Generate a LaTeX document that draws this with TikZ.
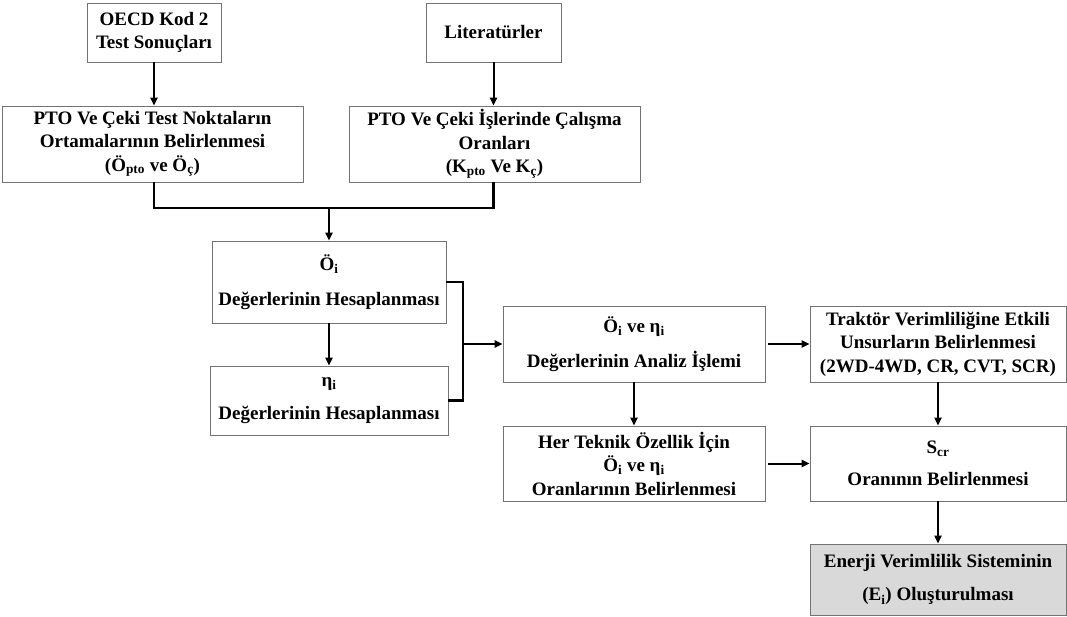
\documentclass[tikz,border=0pt]{standalone}
\usepackage{fontspec}
\setmainfont{Liberation Serif}
\usetikzlibrary{arrows.meta}
\newcommand{\subt}[1]{\textsubscript{#1}}

\begin{document}
\begin{tikzpicture}[x=1pt, y=-1pt,
    box/.style={draw=black!55, line width=0.8pt, fill=white, align=center, inner sep=0pt,
        font=\bfseries\fontsize{19}{23.5}\selectfont},
    arr/.style={line width=2pt, -{Triangle[length=8pt,width=7pt]}},
    conn/.style={line width=2.2pt}]
\useasboundingbox (0,0) rectangle (1067,617);
\node[box, minimum width=134pt, minimum height=59pt] (oecd) at (154,32.5) {OECD Kod 2\\Test Sonuçları};
\node[box, minimum width=135pt, minimum height=59pt] (lit) at (493.5,32.5) {Literatürler};
\node[box, minimum width=301pt, minimum height=76pt] (ptoL) at (152.5,144) {PTO Ve Çeki Test Noktaların\\Ortamalarının Belirlenmesi\\(Ö\subt{pto} ve Ö\subt{ç})};
\node[box, minimum width=291pt, minimum height=76pt] (ptoR) at (494.5,144) {PTO Ve Çeki İşlerinde Çalışma\\Oranları\\(K\subt{pto} Ve K\subt{ç})};
\node[box, minimum width=234pt, minimum height=82pt] (oi) at (329,282) {Ö\subt{i}\\[11pt]Değerlerinin Hesaplanması};
\node[box, minimum width=238pt, minimum height=69pt] (eta) at (329,400.5) {η\subt{i}\\[9pt]Değerlerinin Hesaplanması};
\node[box, minimum width=262pt, minimum height=76pt] (ana) at (634,344) {Ö\subt{i} ve η\subt{i}\\[11pt]Değerlerinin Analiz İşlemi};
\node[box, minimum width=256pt, minimum height=76pt] (trak) at (938,344) {Traktör Verimliliğine Etkili\\Unsurların Belirlenmesi\\(2WD-4WD, CR, CVT, SCR)};
\node[box, minimum width=262pt, minimum height=75pt] (her) at (634,463.5) {Her Teknik Özellik İçin\\Ö\subt{i} ve η\subt{i}\\Oranlarının Belirlenmesi};
\node[box, minimum width=256pt, minimum height=75pt] (scr) at (938,463.5) {S\subt{cr}\\[9pt]Oranının Belirlenmesi};
\node[box, fill=black!15, minimum width=256pt, minimum height=71pt] (ene) at (938,579.5) {Enerji Verimlilik Sisteminin\\[10pt](E\subt{i}) Oluşturulması};
\coordinate (join) at (329,208);
\coordinate (brk) at (463,344);
\draw[arr] (oecd) -- (oecd |- ptoL.north);
\draw[arr] (lit) -- (lit |- ptoR.north);
\draw[conn] (oecd |- ptoL.south) -- (oecd |- join) -- (lit |- join) -- (lit |- ptoR.south);
\draw[arr] (join) -- (oi.north);
\draw[arr] (oi) -- (eta);
\draw[conn] (oi.east) -| (brk |- eta.east) -- (eta.east);
\draw[conn] (brk |- oi.east) -- (brk);
\draw[arr] (brk) -- (ana.west);
\draw[arr] ([xshift=3pt]ana.east) -- (trak.west);
\draw[arr] (ana) -- (her);
\draw[arr] (trak) -- (scr);
\draw[arr] ([xshift=3pt]her.east) -- (scr.west);
\draw[arr] (scr) -- (ene);
\end{tikzpicture}
\end{document}
